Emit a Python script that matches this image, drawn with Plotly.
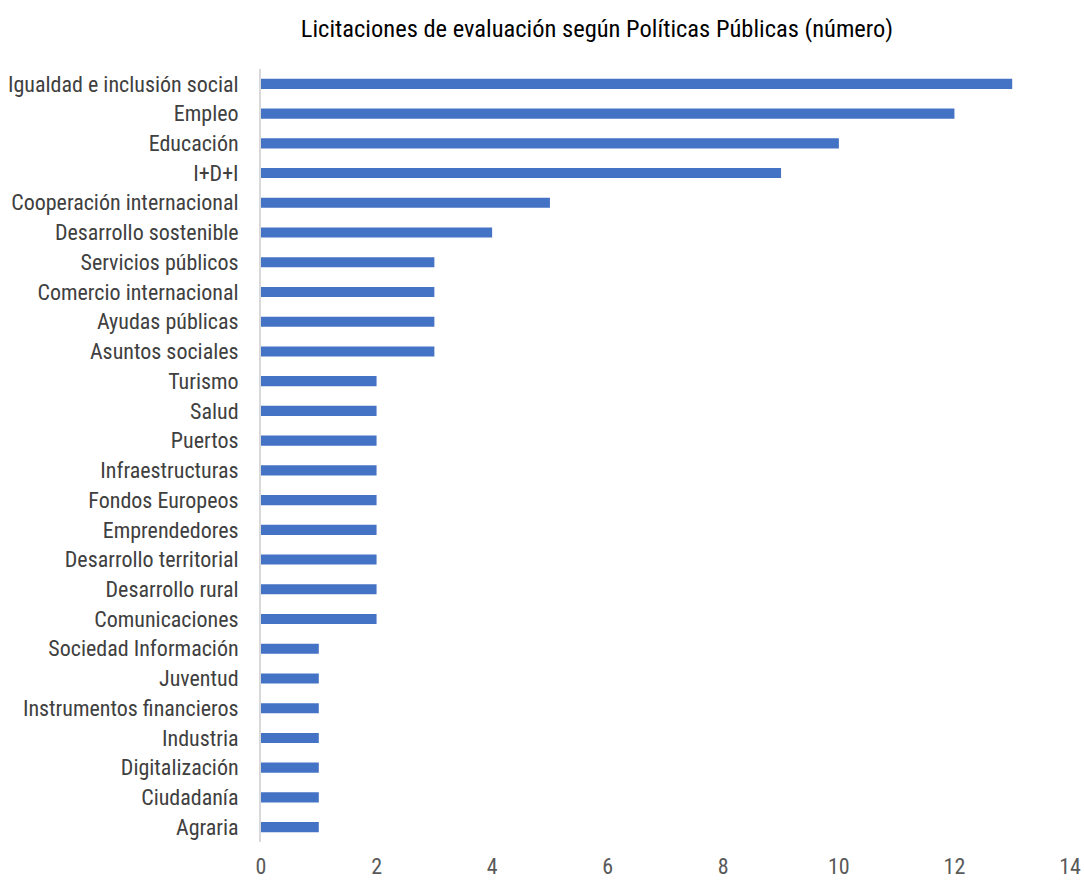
import plotly.graph_objects as go

categories = [
    "Igualdad e inclusión social", "Empleo", "Educación", "I+D+I",
    "Cooperación internacional", "Desarrollo sostenible", "Servicios públicos",
    "Comercio internacional", "Ayudas públicas", "Asuntos sociales", "Turismo",
    "Salud", "Puertos", "Infraestructuras", "Fondos Europeos", "Emprendedores",
    "Desarrollo territorial", "Desarrollo rural", "Comunicaciones",
    "Sociedad Información", "Juventud", "Instrumentos financieros", "Industria",
    "Digitalización", "Ciudadanía", "Agraria",
]
values = [13, 12, 10, 9, 5, 4, 3, 3, 3, 3, 2, 2, 2, 2, 2, 2, 2, 2, 2, 1, 1, 1, 1, 1, 1, 1]
x_ticks = [0, 2, 4, 6, 8, 10, 12, 14]

FONT = "Liberation Sans Narrow, Arial Narrow, Roboto Condensed, Liberation Sans, sans-serif"

fig = go.Figure(go.Bar(
    x=values, y=categories, orientation="h",
    marker=dict(color="#4472C4", line=dict(width=0)),
    width=0.34,
))

fig.update_layout(
    width=1084, height=880,
    paper_bgcolor="white", plot_bgcolor="white",
    margin=dict(l=261, r=14, t=69, b=38),
    title=dict(text="Licitaciones de evaluación según Políticas Públicas (número)",
               x=597 / 1084, xanchor="center", y=1 - 28 / 880, yanchor="middle",
               font=dict(family=FONT, size=24.5, color="#000000")),
    font=dict(family=FONT, size=22, color="#404040"),
    showlegend=False,
)
fig.update_xaxes(range=[0, 14], tickvals=x_ticks, showgrid=False, zeroline=False,
                 showline=False, ticks="", automargin=False, ticklabelstandoff=9,
                 tickfont=dict(size=22, color="#595959"))
fig.update_yaxes(autorange="reversed", showgrid=False, zeroline=False,
                 showline=True, linecolor="#D9D9D9", linewidth=2, ticks="",
                 automargin=False, ticklabelstandoff=16,
                 tickfont=dict(size=22, color="#404040"))

fig.write_html(
    "out.html",
    config={"displayModeBar": False},
    post_script="document.body.style.margin='0';document.body.style.overflow='hidden';",
)
